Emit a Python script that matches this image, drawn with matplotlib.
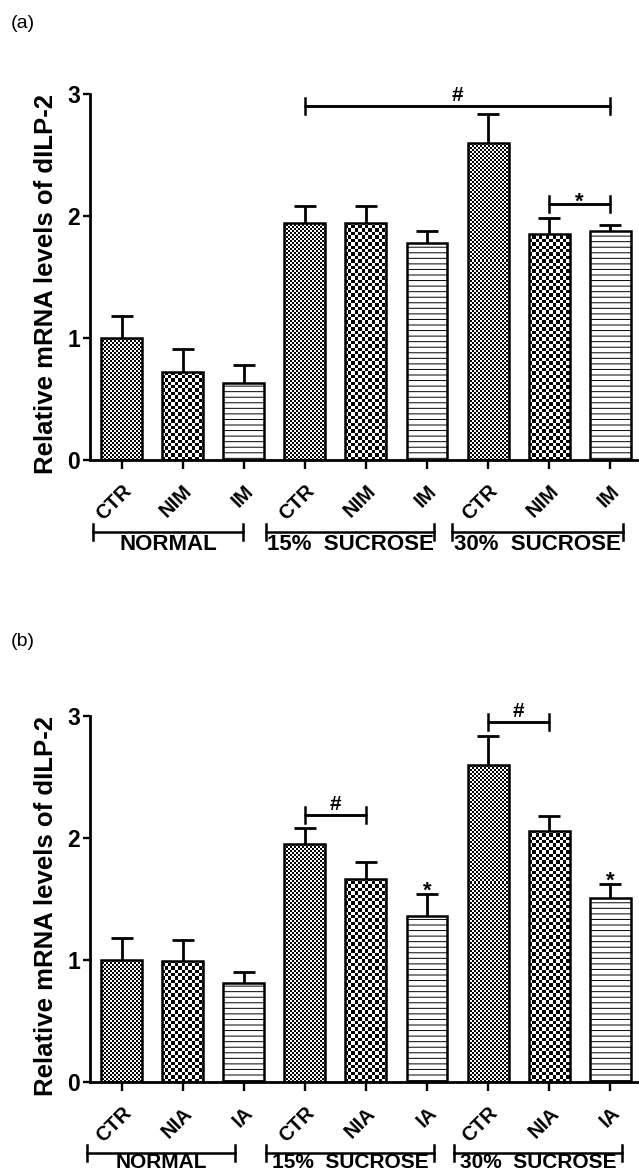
import numpy as np
import matplotlib
matplotlib.use('Agg')
import matplotlib.pyplot as plt

plt.rcParams['font.family'] = ['Liberation Sans', 'DejaVu Sans']
plt.rcParams['hatch.linewidth'] = 0.7

# data (mean and upper SEM)
groups = ['NORMAL', '15%  SUCROSE', '30%  SUCROSE']
labels_a = ['CTR', 'NIM', 'IM'] * 3
labels_b = ['CTR', 'NIA', 'IA'] * 3
mean_a = [1.00, 0.72, 0.63, 1.94, 1.94, 1.78, 2.60, 1.85, 1.88]
sem_a = [0.18, 0.19, 0.15, 0.14, 0.14, 0.10, 0.24, 0.13, 0.05]
mean_b = [1.00, 0.99, 0.81, 1.95, 1.66, 1.36, 2.60, 2.06, 1.51]
sem_b = [0.18, 0.17, 0.09, 0.13, 0.14, 0.18, 0.24, 0.12, 0.11]

# significance marks: (bar i, bar j, height, symbol) and single stars over bars
brackets_a = [(3, 8, 2.90, '#'), (7, 8, 2.10, '*')]
brackets_b = [(3, 4, 2.19, '#'), (6, 7, 2.95, '#')]
stars_a = []
stars_b = [5, 8]

patterns = ['fine', 'coarse', 'lines'] * 3

W, H = 639, 1171
fig = plt.figure(figsize=(W / 100, H / 100), dpi=100)
ax_a = fig.add_axes([90 / W, (H - 460) / H, 549 / W, 366 / H])
ax_b = fig.add_axes([90 / W, (H - 1082) / H, 549 / W, 366 / H])

XLIM = (-0.516, 8.47)
YLIM = (0, 3)


def checker(ax, bar, cell):
    # checkerboard texture clipped to one bar
    xpp = (XLIM[1] - XLIM[0]) / 549
    ypp = (YLIM[1] - YLIM[0]) / 366
    nx, ny = int(549 / cell) + 2, int(366 / cell) + 2
    yy, xx = np.mgrid[0:ny, 0:nx]
    img = (xx + yy) % 2
    im = ax.imshow(img, cmap='gray_r', vmin=0, vmax=1, interpolation='nearest',
                   aspect='auto', origin='lower', zorder=2,
                   extent=[XLIM[0], XLIM[0] + nx * cell * xpp,
                           YLIM[0], YLIM[0] + ny * cell * ypp])
    im.set_clip_path(bar)


def panel(ax, means, sems, labels, brackets, stars, spans, gsize):
    x = np.arange(len(means))
    means = np.array(means)
    sems = np.array(sems)
    base = ax.bar(x, means, width=0.67, color='white', edgecolor='none', zorder=1)
    for b, p in zip(base, patterns):
        if p == 'fine':
            checker(ax, b, 2)
        elif p == 'coarse':
            checker(ax, b, 3.4)
    hatches = ['---' if p == 'lines' else '' for p in patterns]
    ax.bar(x, means, width=0.67, fill=False, edgecolor='black', linewidth=1.8,
           hatch=hatches, zorder=3)
    ax.vlines(x, means, means + sems, color='black', linewidth=2, zorder=4)
    ax.hlines(means + sems, x - 0.18, x + 0.18, color='black', linewidth=2, zorder=4)

    for i, j, y, s in brackets:
        ax.plot([i, i, j, j], [y - 0.065, y, y, y - 0.065], color='black',
                linewidth=1.8, clip_on=False)
        ax.plot([i, i, j, j], [y + 0.065, y, y, y + 0.065], color='black',
                linewidth=1.8, clip_on=False)
        if s == '#':
            ax.text((i + j) / 2, y + 0.04, s, ha='center', va='baseline',
                    fontsize=15, fontweight='bold')
        else:
            ax.text((i + j) / 2, y - 0.03, s, ha='center', va='baseline',
                    fontsize=16, fontweight='bold')
    for i in stars:
        ax.text(i, means[i] + sems[i] - 0.02, '*', ha='center', va='baseline',
                fontsize=16, fontweight='bold')

    ax.set_xlim(*XLIM)
    ax.set_ylim(*YLIM)
    ax.set_yticks([0, 1, 2, 3])
    ax.set_yticklabels(['0', '1', '2', '3'], fontsize=16.5, fontweight='bold')
    ax.set_xticks(x)
    ax.set_xticklabels(labels, rotation=45, ha='right', rotation_mode='anchor',
                       fontsize=14.5, fontweight='bold')
    ax.tick_params(axis='x', length=6.5, width=1.7, pad=9)
    ax.tick_params(axis='y', length=5, width=1.7, pad=2)
    for side in ['top', 'right']:
        ax.spines[side].set_visible(False)
    for side in ['left', 'bottom']:
        ax.spines[side].set_linewidth(2)
    ax.set_ylabel('Relative mRNA levels of dILP-2', fontsize=18.5, fontweight='bold')
    ax.yaxis.set_label_coords(-0.058, 0.482)

    tr = ax.get_xaxis_transform()
    for (x0, x1, yb, yt), name in zip(spans, groups):
        ax.plot([x0, x0], [yb - 0.022, yb + 0.022], color='black', linewidth=1.8,
                transform=tr, clip_on=False)
        ax.plot([x1, x1], [yb - 0.022, yb + 0.022], color='black', linewidth=1.8,
                transform=tr, clip_on=False)
        ax.plot([x0, x1], [yb, yb], color='black', linewidth=1.8,
                transform=tr, clip_on=False)
        ax.text((x0 + x1) / 2, yt, name, transform=tr, ha='center', va='center',
                fontsize=gsize, fontweight='bold')


spans_a = [(-0.471, 1.989, -0.197, -0.232), (2.365, 5.115, -0.197, -0.232),
           (5.409, 8.208, -0.197, -0.232)]
spans_b = [(-0.565, 1.858, -0.194, -0.219), (2.365, 5.115, -0.194, -0.219),
           (5.44, 8.19, -0.194, -0.219)]

panel(ax_a, mean_a, sem_a, labels_a, brackets_a, stars_a, spans_a, 16)
panel(ax_b, mean_b, sem_b, labels_b, brackets_b, stars_b, spans_b, 15)

fig.text(11 / W, 1 - 24 / H, '(a)', fontsize=14, va='center', ha='left')
fig.text(11 / W, 1 - 642 / H, '(b)', fontsize=14, va='center', ha='left')

plt.savefig('out.png', dpi=100)
